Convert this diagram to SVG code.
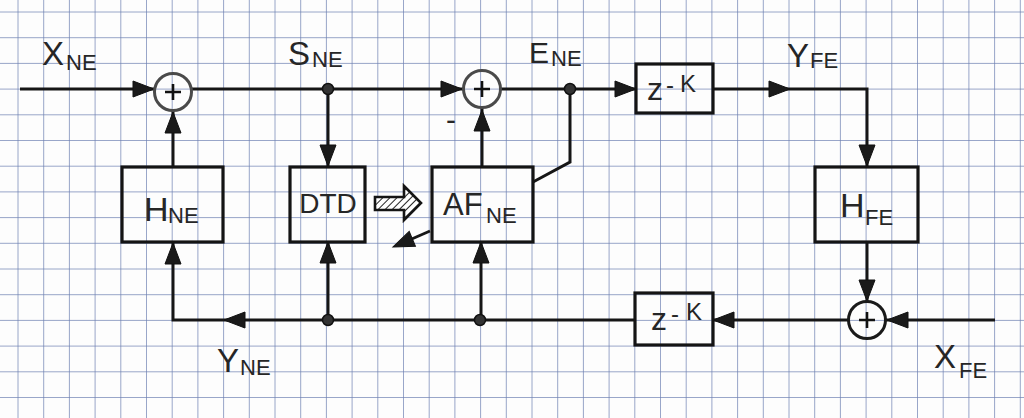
<svg xmlns="http://www.w3.org/2000/svg" width="1024" height="418" viewBox="0 0 1024 418">
<style>
.grid{stroke:#6e80b2;stroke-width:1;fill:none;opacity:0.7}
.box{fill:none;stroke:#141414;stroke-width:3.2}
.wire{fill:none;stroke:#161616;stroke-width:3}
.sum{fill:none;stroke:#4a4a4a;stroke-width:3}
.plus{stroke:#111;stroke-width:2.6;fill:none}
.dot{fill:#333;stroke:#111;stroke-width:1.5}
.ah{fill:#1a1a1a;stroke:#111;stroke-width:1}
text{font-family:"Liberation Sans","DejaVu Sans",sans-serif;fill:#262626}
.big{font-size:33px}
.sub{font-size:22px}
</style>
<defs>
<path id="ah" d="M0 0 L-21 -8 L-21 8 Z"/>
<pattern id="hatch" width="5" height="5" patternUnits="userSpaceOnUse" patternTransform="rotate(45)">
<rect width="5" height="5" fill="#fff"/>
<line x1="0" y1="0" x2="0" y2="5" stroke="#222" stroke-width="2"/>
</pattern>
</defs>
<rect width="1024" height="418" fill="#fdfdfd"/>
<path class="grid" d="M18 0V418M43.7 0V418M69.4 0V418M95.1 0V418M120.8 0V418M146.5 0V418M172.2 0V418M197.9 0V418M223.6 0V418M249.3 0V418M275 0V418M300.7 0V418M326.4 0V418M352.1 0V418M377.8 0V418M403.5 0V418M429.2 0V418M454.9 0V418M480.6 0V418M506.3 0V418M532 0V418M557.7 0V418M583.4 0V418M609.1 0V418M634.8 0V418M660.5 0V418M686.2 0V418M711.9 0V418M737.6 0V418M763.3 0V418M789 0V418M814.7 0V418M840.4 0V418M866.1 0V418M891.8 0V418M917.5 0V418M943.2 0V418M968.9 0V418M994.6 0V418M1020.3 0V418M0 12H1024M0 37.7H1024M0 63.4H1024M0 89.1H1024M0 114.8H1024M0 140.5H1024M0 166.2H1024M0 191.9H1024M0 217.6H1024M0 243.3H1024M0 269H1024M0 294.7H1024M0 320.4H1024M0 346.1H1024M0 371.8H1024M0 397.5H1024"/>

<g id="connectors">
<path class="wire" d="M20 89H154"/>
<path class="wire" d="M192 89H463"/>
<path class="wire" d="M328 89V166"/>
<path class="wire" d="M501 89H636"/>
<path class="wire" d="M570 89V162L533 182"/>
<path class="wire" d="M713 89H867V166"/>
<path class="wire" d="M867 242V301"/>
<path class="wire" d="M995 320H886"/>
<path class="wire" d="M848 320H713"/>
<path class="wire" d="M635 320H173V243"/>
<path class="wire" d="M328 320V242"/>
<path class="wire" d="M481 320V242"/>
<path class="wire" d="M173 167V111"/>
<path class="wire" d="M482 167V108"/>
<path class="wire" d="M430 231L398 245"/>
<use href="#ah" class="ah" transform="translate(154 89)"/>
<use href="#ah" class="ah" transform="translate(462 89)"/>
<use href="#ah" class="ah" transform="translate(328 166) rotate(90)"/>
<use href="#ah" class="ah" transform="translate(636 89)"/>
<use href="#ah" class="ah" transform="translate(790 89)"/>
<use href="#ah" class="ah" transform="translate(867 166) rotate(90)"/>
<use href="#ah" class="ah" transform="translate(867 301) rotate(90)"/>
<use href="#ah" class="ah" transform="translate(887 320) rotate(180)"/>
<use href="#ah" class="ah" transform="translate(713 320) rotate(180)"/>
<use href="#ah" class="ah" transform="translate(224 320) rotate(180)"/>
<use href="#ah" class="ah" transform="translate(173 243) rotate(-90)"/>
<use href="#ah" class="ah" transform="translate(328 242) rotate(-90)"/>
<use href="#ah" class="ah" transform="translate(481 242) rotate(-90)"/>
<use href="#ah" class="ah" transform="translate(173 112) rotate(-90)"/>
<use href="#ah" class="ah" transform="translate(482 110) rotate(-90)"/>
<use href="#ah" class="ah" transform="translate(393 247) rotate(157)"/>
<path d="M375 197H404V186L421 203L404 220V210H375Z" fill="url(#hatch)" stroke="#141414" stroke-width="2.6" stroke-linejoin="miter"/>
<circle class="dot" cx="328" cy="89" r="5.5"/>
<circle class="dot" cx="570" cy="89" r="5.5"/>
<circle class="dot" cx="328" cy="320" r="5.5"/>
<circle class="dot" cx="480" cy="320" r="5.5"/>
</g>

<g id="sum1">
<circle class="sum" cx="173" cy="92" r="18.5"/>
<path class="plus" d="M165 92H181M173 84V100"/>
</g>
<g id="sum2">
<circle class="sum" cx="482" cy="89" r="18.5"/>
<path class="plus" d="M474 89H490M482 81V97"/>
<text x="446" y="130" style="font-size:30px">-</text>
</g>
<g id="sum3">
<circle class="sum" cx="867" cy="320" r="18.5" style="stroke:#1a1a1a"/>
<path class="plus" d="M859 320H875M867 312V328"/>
</g>

<g id="H_NE">
<rect class="box" x="122" y="167" width="101" height="75"/>
<text x="144" y="221" style="font-size:34px">H</text>
<text x="168" y="223" class="sub">NE</text>
</g>
<g id="DTD">
<rect class="box" x="290" y="167" width="75" height="75"/>
<text x="328" y="213" text-anchor="middle" style="font-size:28px">DTD</text>
</g>
<g id="AF_NE">
<rect class="box" x="432" y="167" width="101" height="75"/>
<text x="443" y="215" style="font-size:31px">AF</text>
<text x="486" y="223" class="sub">NE</text>
</g>
<g id="delay_top">
<rect class="box" x="636" y="64" width="77" height="49"/>
<text x="647" y="100" style="font-size:32px">z</text>
<text x="666" y="93" style="font-size:24px">-</text>
<text x="680" y="92" style="font-size:24px">K</text>
</g>
<g id="H_FE">
<rect class="box" x="815" y="167" width="103" height="75"/>
<text x="840" y="217" style="font-size:34px">H</text>
<text x="865" y="225" class="sub">FE</text>
</g>
<g id="delay_bottom">
<rect class="box" x="635" y="293" width="78" height="52"/>
<text x="651" y="330" style="font-size:32px">z</text>
<text x="671" y="322" style="font-size:24px">-</text>
<text x="686" y="320" style="font-size:24px">K</text>
</g>

<g id="labels">
<text x="42" y="65" class="big">X</text><text x="66" y="70" class="sub">NE</text>
<text x="288" y="65" class="big">S</text><text x="312" y="67" class="sub">NE</text>
<text x="529" y="63" style="font-size:30px">E</text><text x="551" y="66" class="sub">NE</text>
<text x="787" y="67" class="big">Y</text><text x="810" y="68" class="sub">FE</text>
<text x="217" y="372" class="big">Y</text><text x="240" y="375" class="sub">NE</text>
<text x="934" y="368" class="big">X</text><text x="959" y="378" class="sub">FE</text>
</g>
</svg>
